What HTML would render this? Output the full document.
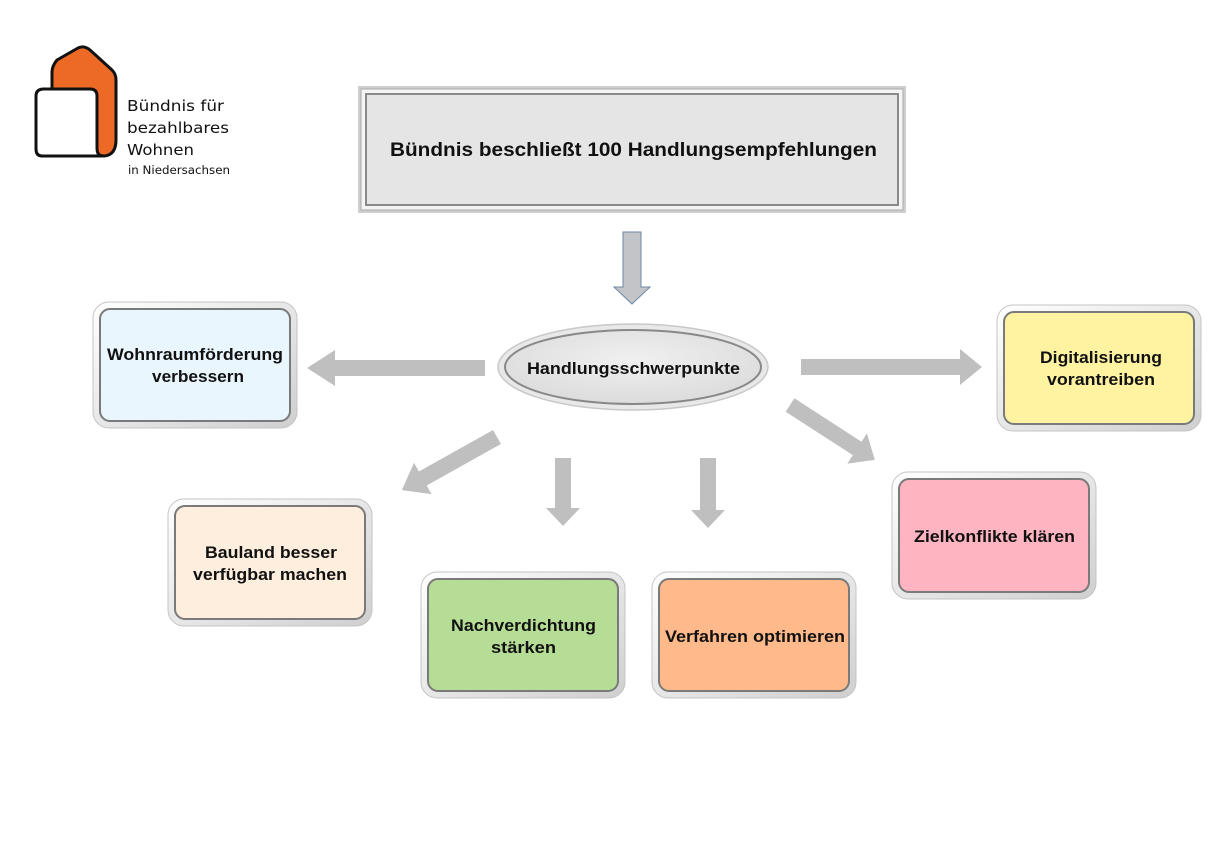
<!DOCTYPE html>
<html><head><meta charset="utf-8"><style>
html,body{margin:0;padding:0;background:#fff;}
svg{display:block;}
text{font-family:"Liberation Sans",Arial,sans-serif;font-weight:bold;fill:#111;}
</style></head><body>
<svg width="1225" height="858" viewBox="0 0 1225 858" xmlns="http://www.w3.org/2000/svg">
<defs>
<linearGradient id="frame" x1="0" y1="0" x2="1" y2="1">
<stop offset="0" stop-color="#ffffff"/><stop offset="1" stop-color="#cfcfcf"/>
</linearGradient>
<radialGradient id="ell" cx="0.5" cy="0.4" r="0.6">
<stop offset="0" stop-color="#f0f0f0"/><stop offset="1" stop-color="#dcdcdc"/>
</radialGradient>
</defs>

<!-- Logo -->
<path d="M52,150 L52,72 Q52,66 57,60 L78,48 Q84,45 90,50 L112,70 Q116,74 116,80 L116,140 Q116,155 104,156 Z" fill="#ec6a25" stroke="#111" stroke-width="3" stroke-linejoin="round"/>
<path d="M44,89 L90,89 Q97,89 97,96 L97,148 Q97,156 103,156 L42,156 Q36,156 36,149 L36,96 Q36,89 44,89 Z" fill="#fff" stroke="#111" stroke-width="3"/>
<text x="127" y="111" style="font-weight:normal;font-family:'DejaVu Sans',sans-serif" font-size="15" fill="#222" textLength="97" lengthAdjust="spacingAndGlyphs">Bündnis für</text>
<text x="127" y="133" style="font-weight:normal;font-family:'DejaVu Sans',sans-serif" font-size="15" fill="#222" textLength="102" lengthAdjust="spacingAndGlyphs">bezahlbares</text>
<text x="127" y="155" style="font-weight:normal;font-family:'DejaVu Sans',sans-serif" font-size="15" fill="#222" textLength="67" lengthAdjust="spacingAndGlyphs">Wohnen</text>
<text x="128" y="174" style="font-weight:normal;font-family:'DejaVu Sans',sans-serif" font-size="11.5" fill="#333" textLength="102" lengthAdjust="spacingAndGlyphs">in Niedersachsen</text>

<!-- Title box -->
<rect x="358" y="86" width="548" height="127" fill="#cfcfcf"/>
<rect x="361" y="89" width="542" height="121" fill="#f4f4f4" stroke="#aaa" stroke-width="1"/>
<rect x="366" y="94" width="532" height="111" fill="#e5e5e5" stroke="#8a8a8a" stroke-width="2"/>
<text x="390" y="156" font-size="19.5" textLength="487" lengthAdjust="spacingAndGlyphs">Bündnis beschließt 100 Handlungsempfehlungen</text>

<!-- down arrow -->
<polygon points="623,232 641,232 641,287 650,287 632,304 614,287 623,287" fill="#c2c4c8" stroke="#6e87a8" stroke-width="1"/>

<!-- ellipse -->
<ellipse cx="633" cy="367" rx="135" ry="43" fill="#e8e8e8" stroke="#c8c8c8" stroke-width="1.5"/>
<ellipse cx="633" cy="367" rx="128" ry="37" fill="url(#ell)" stroke="#888" stroke-width="2"/>
<text x="527" y="374" font-size="17" textLength="213" lengthAdjust="spacingAndGlyphs">Handlungsschwerpunkte</text>

<!-- gray arrows -->
<g fill="#bfbfbf">
<g transform="translate(485,368) rotate(180)"><polygon points="0,-8 150,-8 150,-18 178,0 150,18 150,8 0,8"/></g>
<g transform="translate(801,367)"><polygon points="0,-8 159,-8 159,-18 181,0 159,18 159,8 0,8"/></g>
<g transform="translate(497,437) rotate(150.8)"><polygon points="0,-8 85,-8 85,-18 109,0 85,18 85,8 0,8"/></g>
<g transform="translate(563,458) rotate(90)"><polygon points="0,-8 50,-8 50,-17 68,0 50,17 50,8 0,8"/></g>
<g transform="translate(708,458) rotate(90)"><polygon points="0,-8 52,-8 52,-17 70,0 52,17 52,8 0,8"/></g>
<g transform="translate(790,405) rotate(32.9)"><polygon points="0,-8 80,-8 80,-18 101,0 80,18 80,8 0,8"/></g>
</g>

<!-- boxes -->
<g>
<rect x="93" y="302" width="204" height="126" rx="16" fill="url(#frame)" stroke="#c4c4c4"/>
<rect x="100" y="309" width="190" height="112" rx="10" fill="#eaf6fd" stroke="#7a7a7a" stroke-width="2"/>
<text x="107" y="360" font-size="16.5" textLength="176" lengthAdjust="spacingAndGlyphs">Wohnraumförderung</text>
<text x="152" y="382" font-size="16.5" textLength="92" lengthAdjust="spacingAndGlyphs">verbessern</text>

<rect x="997" y="305" width="204" height="126" rx="16" fill="url(#frame)" stroke="#c4c4c4"/>
<rect x="1004" y="312" width="190" height="112" rx="10" fill="#fff3a2" stroke="#7a7a7a" stroke-width="2"/>
<text x="1040" y="363" font-size="16.5" textLength="122" lengthAdjust="spacingAndGlyphs">Digitalisierung</text>
<text x="1047" y="385" font-size="16.5" textLength="108" lengthAdjust="spacingAndGlyphs">vorantreiben</text>

<rect x="168" y="499" width="204" height="127" rx="16" fill="url(#frame)" stroke="#c4c4c4"/>
<rect x="175" y="506" width="190" height="113" rx="10" fill="#fdeedd" stroke="#7a7a7a" stroke-width="2"/>
<text x="205" y="558" font-size="16.5" textLength="132" lengthAdjust="spacingAndGlyphs">Bauland besser</text>
<text x="193" y="580" font-size="16.5" textLength="154" lengthAdjust="spacingAndGlyphs">verfügbar machen</text>

<rect x="421" y="572" width="204" height="126" rx="16" fill="url(#frame)" stroke="#c4c4c4"/>
<rect x="428" y="579" width="190" height="112" rx="10" fill="#b6dd96" stroke="#7a7a7a" stroke-width="2"/>
<text x="451" y="631" font-size="16.5" textLength="145" lengthAdjust="spacingAndGlyphs">Nachverdichtung</text>
<text x="491" y="653" font-size="16.5" textLength="65" lengthAdjust="spacingAndGlyphs">stärken</text>

<rect x="652" y="572" width="204" height="126" rx="16" fill="url(#frame)" stroke="#c4c4c4"/>
<rect x="659" y="579" width="190" height="112" rx="10" fill="#ffb98a" stroke="#7a7a7a" stroke-width="2"/>
<text x="665" y="642" font-size="16.5" textLength="180" lengthAdjust="spacingAndGlyphs">Verfahren optimieren</text>

<rect x="892" y="472" width="204" height="127" rx="16" fill="url(#frame)" stroke="#c4c4c4"/>
<rect x="899" y="479" width="190" height="113" rx="10" fill="#ffb4c1" stroke="#7a7a7a" stroke-width="2"/>
<text x="914" y="542" font-size="16.5" textLength="161" lengthAdjust="spacingAndGlyphs">Zielkonflikte klären</text>
</g>
</svg>
</body></html>
